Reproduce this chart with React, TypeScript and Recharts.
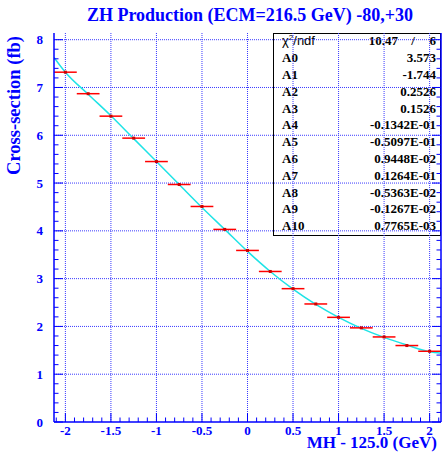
import React from 'react';
import { ComposedChart, XAxis, YAxis, Scatter, Line, ErrorBar, ReferenceLine } from 'recharts';

const BLUE = '#0000ff';
const SERIF = '"Liberation Serif", "Times New Roman", serif';
const SANS = '"Liberation Sans", Arial, sans-serif';

// measured points: MH - 125.0 (GeV) vs cross-section (fb)
const massShift = [-2, -1.75, -1.5, -1.25, -1, -0.75, -0.5, -0.25, 0, 0.25, 0.5, 0.75, 1, 1.25, 1.5, 1.75, 2];
const xsec = [7.32, 6.87, 6.4, 5.94, 5.45, 4.97, 4.51, 4.03, 3.59, 3.15, 2.79, 2.47, 2.19, 1.97, 1.78, 1.6, 1.48];
const binHalfWidth = [0.125, 0.125, 0.125, 0.125, 0.125, 0.125, 0.125, 0.125, 0.125, 0.125, 0.125, 0.125, 0.125, 0.125, 0.125, 0.125, 0.125];

// fitted curve
const fitShift = [-2.125, -2, -1.75, -1.5, -1.25, -1, -0.75, -0.5, -0.25, 0, 0.25, 0.5, 0.75, 1, 1.25, 1.5, 1.75, 2, 2.125];
const fitXsec = [7.63, 7.32, 6.86, 6.41, 5.93, 5.45, 4.97, 4.49, 4.03, 3.57, 3.15, 2.78, 2.46, 2.19, 1.96, 1.77, 1.61, 1.47, 1.44];

// stats box
const chi2 = '10.47';
const ndf = '6';
const paramNames = ['A0', 'A1', 'A2', 'A3', 'A4', 'A5', 'A6', 'A7', 'A8', 'A9', 'A10'];
const paramValues = ['3.573', '-1.744', '0.2526', '0.1526', '-0.1342E-01', '-0.5097E-01', '0.9448E-02', '0.1264E-01', '-0.5363E-02', '-0.1267E-02', '0.7765E-03'];

// axes
const xMajor = [-2, -1.5, -1, -0.5, 0, 0.5, 1, 1.5, 2];
const xMajorLabels = ['-2', '-1.5', '-1', '-0.5', '0', '0.5', '1', '1.5', '2'];
const xTicks = [-2.1, -2, -1.9, -1.8, -1.7, -1.6, -1.5, -1.4, -1.3, -1.2, -1.1, -1, -0.9, -0.8, -0.7, -0.6, -0.5, -0.4, -0.3, -0.2, -0.1, 0,
  0.1, 0.2, 0.3, 0.4, 0.5, 0.6, 0.7, 0.8, 0.9, 1, 1.1, 1.2, 1.3, 1.4, 1.5, 1.6, 1.7, 1.8, 1.9, 2, 2.1];
const yMajor = [0, 1, 2, 3, 4, 5, 6, 7, 8];
const yMajorLabels = ['0', '1', '2', '3', '4', '5', '6', '7', '8'];
const yTicks = [0, 0.2, 0.4, 0.6, 0.8, 1, 1.2, 1.4, 1.6, 1.8, 2, 2.2, 2.4, 2.6, 2.8, 3, 3.2, 3.4, 3.6, 3.8, 4,
  4.2, 4.4, 4.6, 4.8, 5, 5.2, 5.4, 5.6, 5.8, 6, 6.2, 6.4, 6.6, 6.8, 7, 7.2, 7.4, 7.6, 7.8, 8];
const gridX = [-2, -1.5, -1, -0.5, 0, 0.5, 1, 1.5, 2];
const gridY = [1, 2, 3, 4, 5, 6, 7, 8];

const points = massShift.map((x, i) => ({ x, y: xsec[i], ex: binHalfWidth[i] }));
const fit = fitShift.map((x, i) => ({ x, y: fitXsec[i] }));

const majorIndex = (v: number, majors: number[]) => majors.findIndex((m) => Math.abs(m - v) < 1e-6);
const MAJOR = 9;
const MINOR = 4.5;
const labelStyle = { fontFamily: SERIF, fontWeight: 700, fontSize: 13, fill: BLUE };

// eslint-disable-next-line @typescript-eslint/no-explicit-any
const BottomTick = ({ x, y, payload }: any) => {
  const i = majorIndex(payload.value, xMajor);
  return (
    <g>
      <line x1={x} x2={x} y1={y} y2={y - (i >= 0 ? MAJOR : MINOR)} stroke={BLUE} />
      {i >= 0 && <text x={x} y={y + 13} textAnchor="middle" style={labelStyle}>{xMajorLabels[i]}</text>}
    </g>
  );
};

// eslint-disable-next-line @typescript-eslint/no-explicit-any
const TopTick = ({ x, y, payload }: any) => {
  const i = majorIndex(payload.value, xMajor);
  return <line x1={x} x2={x} y1={y} y2={y + (i >= 0 ? MAJOR : MINOR)} stroke={BLUE} />;
};

// eslint-disable-next-line @typescript-eslint/no-explicit-any
const LeftTick = ({ x, y, payload }: any) => {
  const i = majorIndex(payload.value, yMajor);
  return (
    <g>
      <line x1={x} x2={x + (i >= 0 ? MAJOR : MINOR)} y1={y} y2={y} stroke={BLUE} />
      {i >= 0 && <text x={x - 11} y={y + 4.5} textAnchor="end" style={labelStyle}>{yMajorLabels[i]}</text>}
    </g>
  );
};

// eslint-disable-next-line @typescript-eslint/no-explicit-any
const RightTick = ({ x, y, payload }: any) => {
  const i = majorIndex(payload.value, yMajor);
  return <line x1={x} x2={x - (i >= 0 ? MAJOR : MINOR)} y1={y} y2={y} stroke={BLUE} />;
};

// eslint-disable-next-line @typescript-eslint/no-explicit-any
const Marker = ({ cx, cy }: any) => <rect x={cx - 1.5} y={cy - 1.5} width={3} height={3} fill="#d00000" />;

const W = 443;
const H = 454;

function StatsBox() {
  const left = 273;
  const top = 33;
  const right = 441;
  const bottom = 236;
  const rowH = 16.8;
  const bold = { fontFamily: SERIF, fontWeight: 700, fontSize: 13, fill: '#000' };
  return (
    <svg width={W} height={H} style={{ position: 'absolute', left: 0, top: 0 }}>
      <rect x={left + 0.5} y={top + 0.5} width={right - left - 1} height={bottom - top - 1} fill="#fff" stroke="#000" />
      <text x={282} y={45} style={{ fontFamily: SANS, fontSize: 13, fill: '#000' }}>
        χ<tspan dy={-5} fontSize={8}>2</tspan><tspan dy={5}>/ndf</tspan>
      </text>
      <text x={398} y={45} textAnchor="end" style={bold}>{chi2}</text>
      <text x={413} y={45} textAnchor="middle" style={bold}>/</text>
      <text x={436} y={45} textAnchor="end" style={bold}>{ndf}</text>
      {paramNames.map((name, i) => (
        <g key={name}>
          <text x={282} y={62.2 + i * rowH} style={bold}>{name}</text>
          <text x={436} y={62.2 + i * rowH} textAnchor="end" style={bold}>{paramValues[i]}</text>
        </g>
      ))}
    </svg>
  );
}

export default function App() {
  const titleStyle = { fontFamily: SERIF, fontWeight: 700, fontSize: 18, fill: BLUE };
  const axisTitleStyle = { fontFamily: SERIF, fontWeight: 700, fontSize: 17, fill: BLUE };
  return (
    <div style={{ position: 'absolute', left: 0, top: 0, width: W, height: H, background: '#fff' }}>
      <StatsBox />
      <div style={{ position: 'absolute', left: 0, top: 0 }}>
        <ComposedChart width={W} height={H} margin={{ top: 33, right: 0, bottom: 0, left: 0 }}>
          <XAxis xAxisId="b" dataKey="x" type="number" domain={[-2.125, 2.125]} allowDataOverflow
            ticks={xTicks} interval={0} height={32} tickSize={0} tickMargin={0} tickLine={false}
            tick={BottomTick} axisLine={{ stroke: BLUE, strokeWidth: 1.5 }} />
          <XAxis xAxisId="t" orientation="top" dataKey="x" type="number" domain={[-2.125, 2.125]} allowDataOverflow
            ticks={xTicks} interval={0} height={0} tickSize={0} tickMargin={0} tickLine={false}
            tick={TopTick} axisLine={{ stroke: BLUE, strokeWidth: 1.5 }} />
          <YAxis yAxisId="l" dataKey="y" type="number" domain={[0, 8.14]} allowDataOverflow
            ticks={yTicks} interval={0} width={54} tickSize={0} tickMargin={0} tickLine={false}
            tick={LeftTick} axisLine={{ stroke: BLUE, strokeWidth: 1.5 }} />
          <YAxis yAxisId="r" orientation="right" dataKey="y" type="number" domain={[0, 8.14]} allowDataOverflow
            ticks={yTicks} interval={0} width={2} tickSize={0} tickMargin={0} tickLine={false}
            tick={RightTick} axisLine={{ stroke: BLUE, strokeWidth: 1.5 }} />
          {gridX.map((v) => (
            <ReferenceLine key={`gx${v}`} xAxisId="b" yAxisId="l" x={v} stroke="#3a3aff" strokeDasharray="1 1" />
          ))}
          {gridY.map((v) => (
            <ReferenceLine key={`gy${v}`} xAxisId="b" yAxisId="l" y={v} stroke="#3a3aff" strokeDasharray="1 1" />
          ))}
          <Line xAxisId="b" yAxisId="l" data={fit} dataKey="y" type="monotone" stroke="#1ee3e6" strokeWidth={1.5}
            dot={false} isAnimationActive={false} />
          <Scatter xAxisId="b" yAxisId="l" data={points} dataKey="y" shape={Marker} isAnimationActive={false}>
            <ErrorBar dataKey="ex" direction="x" width={0} stroke="#ff0000" strokeWidth={1.5} />
          </Scatter>
        </ComposedChart>
      </div>
      <svg width={W} height={H} style={{ position: 'absolute', left: 0, top: 0, pointerEvents: 'none' }}>
        <text x={250} y={21} textAnchor="middle" style={titleStyle}>ZH Production (ECM=216.5 GeV) -80,+30</text>
        <text x={437} y={448} textAnchor="end" style={axisTitleStyle}>MH - 125.0 (GeV)</text>
        <text transform="translate(20, 36) rotate(-90)" textAnchor="end"
          style={{ ...axisTitleStyle, fontSize: 18.5 }}>Cross-section (fb)</text>
      </svg>
    </div>
  );
}
